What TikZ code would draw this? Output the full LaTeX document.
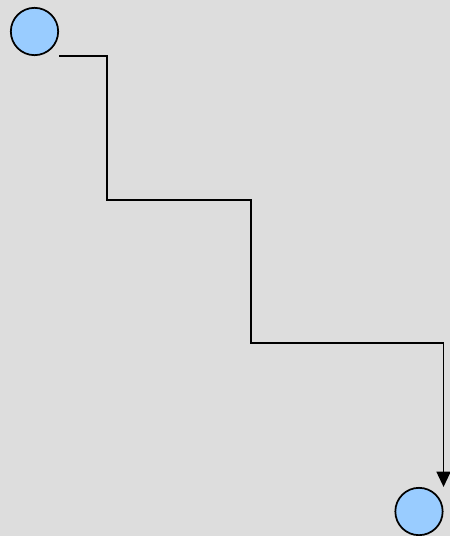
\documentclass[tikz,border=0pt]{standalone}
\usetikzlibrary{arrows.meta}
\definecolor{bg}{HTML}{DDDDDD}
\definecolor{ballfill}{HTML}{99CCFF}
\tikzset{
  ball/.style={circle, draw=black, fill=ballfill, line width=1.3pt, minimum size=35.5pt, inner sep=0pt},
  wire/.style={draw=black, line width=1.4pt, -{Triangle[length=11.5pt,width=10.5pt]}}
}
\begin{document}
\begin{tikzpicture}[x=0.75pt,y=-0.75pt]
  \fill[bg] (0,0) rectangle (450,536);
  \useasboundingbox (0,0) rectangle (450,536);
  \node[ball] (a) at (34.5,31.5) {};
  \node[ball] (b) at (419,511.5) {};
  \coordinate (s) at (a.south -| a.east);
  \coordinate (e) at (b.north -| b.east);
  \coordinate (k1) at (107,200);
  \coordinate (k2) at (251,343);
  \draw[wire] (s) -| (k1) -| (k2) -| (e);
\end{tikzpicture}
\end{document}
